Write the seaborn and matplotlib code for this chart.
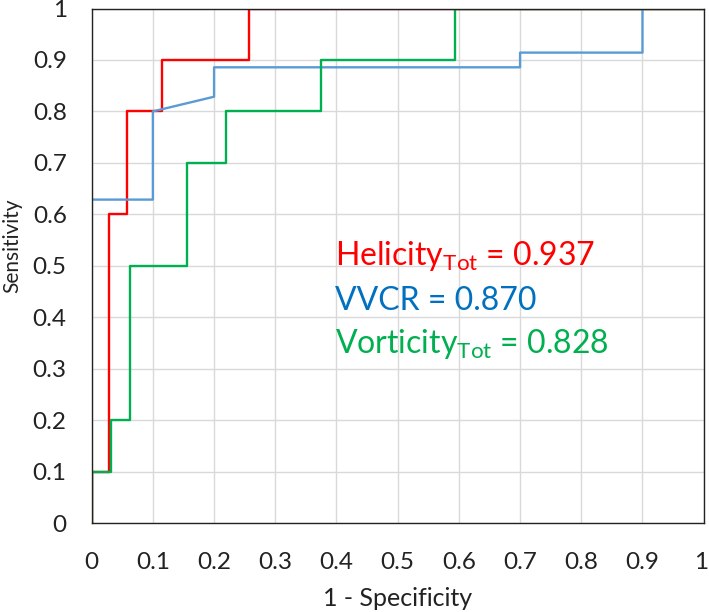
import matplotlib
matplotlib.use("Agg")
import matplotlib.pyplot as plt
import matplotlib.transforms as mtransforms
import numpy as np
import pandas as pd
import seaborn as sns

# ROC curve corner points (1 - specificity, sensitivity)
lstHelicityFpr = [0, 0, 1/35, 1/35, 2/35, 2/35, 4/35, 4/35, 9/35, 9/35, 1]
lstHelicityTpr = [0, 0.1, 0.1, 0.6, 0.6, 0.8, 0.8, 0.9, 0.9, 1.0, 1.0]

lstVvcrFpr = [0, 0, 0.1, 0.1, 0.2, 0.2, 0.7, 0.7, 0.9, 0.9, 1]
lstVvcrTpr = [0, 22/35, 22/35, 28/35, 29/35, 31/35, 31/35, 32/35, 32/35, 1.0, 1.0]

lstVorticityFpr = [0, 0, 1/32, 1/32, 2/32, 2/32, 5/32, 5/32, 7/32, 7/32,
                   12/32, 12/32, 19/32, 19/32, 1]
lstVorticityTpr = [0, 0.1, 0.1, 0.2, 0.2, 0.5, 0.5, 0.7, 0.7, 0.8,
                   0.8, 0.9, 0.9, 1.0, 1.0]

lstAuc = [0.937, 0.870, 0.828]
lstLabels = ["Helicity$_{\\mathrm{Tot}}$", "VVCR", "Vorticity$_{\\mathrm{Tot}}$"]
lstLineColors = ["#ff0000", "#5b9bd5", "#00b050"]
lstTextColors = ["#ff0000", "#0070c0", "#00b050"]
lstTicks = [0, 0.1, 0.2, 0.3, 0.4, 0.5, 0.6, 0.7, 0.8, 0.9, 1]
lstTickLabels = ["0", "0.1", "0.2", "0.3", "0.4", "0.5", "0.6", "0.7", "0.8", "0.9", "1"]

sns.set_style("whitegrid")
plt.rcParams["font.family"] = ["Lato", "DejaVu Sans"]
plt.rcParams["mathtext.fontset"] = "custom"
plt.rcParams["mathtext.rm"] = "Lato"
plt.rcParams["mathtext.it"] = "Lato:italic"

fig = plt.figure(figsize=(7.09, 6.12), dpi=100)
ax = fig.add_axes([0.1293, 0.1454, 0.8632, 0.8407])

lstCurves = [
    (lstHelicityFpr, lstHelicityTpr),
    (lstVvcrFpr, lstVvcrTpr),
    (lstVorticityFpr, lstVorticityTpr),
]
for (lstX, lstY), sColor in zip(lstCurves, lstLineColors):
    dfCurve = pd.DataFrame({"fpr": lstX, "tpr": lstY})
    sns.lineplot(data=dfCurve, x="fpr", y="tpr", sort=False, estimator=None,
                 color=sColor, linewidth=1.7, ax=ax)

ax.set_xlim(0, 1)
ax.set_ylim(0, 1)
ax.set_xticks(lstTicks)
ax.set_xticklabels(lstTickLabels)
ax.set_yticks(lstTicks)
ax.set_yticklabels(lstTickLabels)
ax.grid(True, color="#d9d9d9", linewidth=1.0)
ax.tick_params(axis="both", length=0, labelsize=17.5, colors="#222222")
ax.tick_params(axis="x", pad=21)
ax.tick_params(axis="y", pad=18)
for sSide in ["left", "right", "top", "bottom"]:
    ax.spines[sSide].set_color("#222222")
    ax.spines[sSide].set_linewidth(1.0)

# nudge the last x tick label inward so it stays inside the canvas
oLast = ax.get_xticklabels()[-1]
oLast.set_transform(oLast.get_transform() +
                    mtransforms.ScaledTranslation(-3 / 100, 0, fig.dpi_scale_trans))

ax.set_xlabel("1 - Specificity", fontsize=18, color="#222222", labelpad=10)
ax.set_ylabel("Sensitivity", fontsize=15, color="#222222")
ax.yaxis.set_label_coords(-0.114, 0.538)

lstBaselines = [0.501, 0.4136, 0.330]
for sLabel, fAuc, sColor, fY in zip(lstLabels, lstAuc, lstTextColors, lstBaselines):
    ax.text(0.398, fY, f"{sLabel} = {fAuc:.3f}", color=sColor, fontsize=23,
            ha="left", va="baseline")

fig.savefig("out.png", dpi=100)
